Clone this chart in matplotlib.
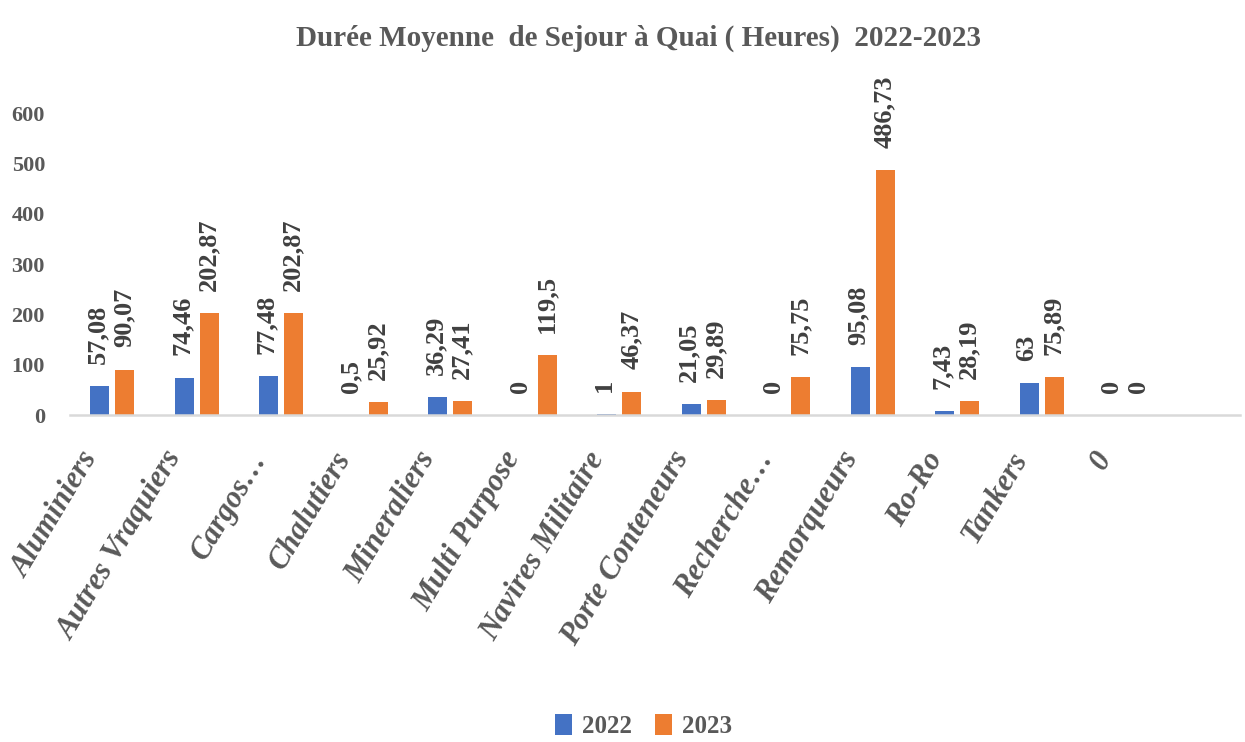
import numpy as np
import matplotlib.pyplot as plt

# Data
categories = ['Aluminiers', 'Autres Vraquiers', 'Cargos…', 'Chalutiers', 'Mineraliers',
              'Multi Purpose', 'Navires Militaire', 'Porte Conteneurs', 'Recherche…',
              'Remorqueurs', 'Ro-Ro', 'Tankers', '0']
values_2022 = [57.08, 74.46, 77.48, 0.5, 36.29, 0, 1, 21.05, 0, 95.08, 7.43, 63, 0]
values_2023 = [90.07, 202.87, 202.87, 25.92, 27.41, 119.5, 46.37, 29.89, 75.75, 486.73, 28.19, 75.89, 0]
yticks = [0, 100, 200, 300, 400, 500, 600]

blue = '#4472C4'
orange = '#ED7D31'
txt = '#595959'
font = 'Liberation Serif'

def fmt(v):
    # French decimal comma, like the source
    s = ('%.2f' % v).rstrip('0').rstrip('.')
    return s.replace('.', ',')

fig = plt.figure(figsize=(12.45, 7.42), dpi=100)
ax = fig.add_axes([0.0562, 0.4407, 0.94, 0.4744])

x = np.arange(len(categories))
w = 0.225
off = 0.148
b1 = ax.bar(x - off, values_2022, w, color=blue, label='2022')
b2 = ax.bar(x + off, values_2023, w, color=orange, label='2023')

# data labels, rotated like Excel's
for bars, vals, dx in [(b1, values_2022, -1.5), (b2, values_2023, -0.5)]:
    for r, v in zip(bars, vals):
        ax.annotate(fmt(v), (r.get_x() + r.get_width() / 2, v),
                    xytext=(dx, 16), textcoords='offset points',
                    rotation=90, ha='center', va='bottom',
                    fontsize=19, fontweight='bold', family=font, color='#404040',
                    annotation_clip=False)

ax.set_xlim(-0.5, 13.35)
ax.set_ylim(0, 700)
ax.set_yticks(yticks)
ax.set_yticklabels([str(t) for t in yticks], fontsize=16, fontweight='bold',
                   family=font, color=txt)

# category labels drawn by hand so they can sit where Excel puts them
ax.set_xticks(x)
ax.set_xticklabels([])
for xi, cat in zip(x, categories):
    ax.annotate(cat, (xi, 0), xytext=(-15, -28), textcoords='offset points',
                rotation=59, ha='right', va='center', rotation_mode='anchor',
                fontsize=22, fontweight='bold', fontstyle='italic', family=font,
                color=txt, annotation_clip=False)

ax.tick_params(axis='both', length=0)
ax.tick_params(axis='y', pad=18)
for s in ['top', 'right', 'left']:
    ax.spines[s].set_visible(False)
ax.spines['bottom'].set_color('#d9d9d9')
ax.spines['bottom'].set_linewidth(1.8)

fig.text(0.513, 0.948, 'Durée Moyenne  de Sejour à Quai ( Heures)  2022-2023',
         ha='center', va='center', fontsize=21, fontweight='bold', family=font, color=txt)

fig.legend(handles=[b1, b2], loc='lower center', bbox_to_anchor=(0.517, -0.025), ncol=2,
           frameon=False, handlelength=0.7, handleheight=0.9, columnspacing=0.9,
           handletextpad=0.4,
           prop={'family': font, 'weight': 'bold', 'size': 18}, labelcolor=txt)

fig.savefig('out.png', dpi=100)
